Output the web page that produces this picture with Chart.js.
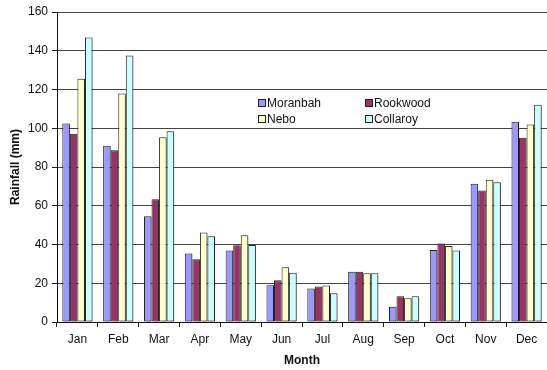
<!DOCTYPE html>
<html>
<head>
<meta charset="utf-8">
<script src="https://cdn.jsdelivr.net/npm/chart.js@4/dist/chart.umd.min.js"></script>
<style>
html,body{margin:0;padding:0;background:#fff;}
canvas{display:block;}
</style>
</head>
<body>
<canvas id="c" width="547" height="370"></canvas>
<script>
const months = ["Jan","Feb","Mar","Apr","May","Jun","Jul","Aug","Sep","Oct","Nov","Dec"];
const moranbah = [102.5, 91.0, 54.6, 35.4, 36.9, 19.0, 17.3, 25.9, 7.9, 37.2, 71.4, 103.4];
const rookwood = [97.1, 88.6, 63.4, 32.4, 39.6, 21.6, 18.3, 25.9, 13.3, 40.5, 67.9, 95.1];
const nebo     = [125.6, 118.0, 95.4, 46.2, 44.8, 28.2, 18.8, 25.2, 12.3, 39.2, 73.4, 101.9];
const collaroy = [146.9, 137.5, 98.5, 44.2, 39.8, 25.4, 14.8, 25.2, 13.3, 36.9, 72.1, 112.1];
const seriesNames = ["Moranbah","Rookwood","Nebo","Collaroy"];
const yAxisTitle = "Rainfall (mm)";
const xAxisTitle = "Month";

const colors = ["#9999FF","#993366","#FFFFCC","#CCFFFF"];
const FONT = "'Liberation Sans', Arial, sans-serif";

const shadowPlugin = {
  id: 'barShadow',
  beforeDatasetDraw(chart) {
    const ctx = chart.ctx;
    ctx.save();
    ctx.shadowColor = 'rgba(0,0,0,0.25)';
    ctx.shadowOffsetX = 2;
    ctx.shadowOffsetY = 1;
    ctx.shadowBlur = 0;
  },
  afterDatasetDraw(chart) {
    chart.ctx.restore();
  }
};

const legendPlugin = {
  id: 'insideLegend',
  afterDraw(chart) {
    const ctx = chart.ctx;
    const pos = [[258, 103], [365, 103], [258, 119], [365, 119]];
    ctx.save();
    ctx.font = "12px " + FONT;
    ctx.textBaseline = 'middle';
    ctx.textAlign = 'left';
    chart.data.datasets.forEach((ds, i) => {
      const [x, y] = pos[i];
      ctx.fillStyle = ds.backgroundColor;
      ctx.fillRect(x + 0.5, y - 3.5, 7, 7);
      ctx.strokeStyle = '#222';
      ctx.lineWidth = 1;
      ctx.strokeRect(x + 0.5, y - 3.5, 7, 7);
      ctx.fillStyle = '#111';
      ctx.fillText(ds.label, x + 9, y + 0.5);
    });
    ctx.restore();
  }
};

const seriesData = [moranbah, rookwood, nebo, collaroy];

new Chart(document.getElementById('c'), {
  type: 'bar',
  data: {
    labels: months,
    datasets: seriesNames.map((name, i) => ({
      label: name,
      data: seriesData[i],
      backgroundColor: colors[i],
      borderColor: '#222',
      borderWidth: 1,
      borderSkipped: false,
      categoryPercentage: 0.74,
      barPercentage: 1.0
    }))
  },
  options: {
    responsive: false,
    animation: false,
    devicePixelRatio: 1,
    layout: { padding: { top: 12, right: 0, bottom: 0, left: 0 } },
    plugins: {
      legend: { display: false },
      tooltip: { enabled: false }
    },
    scales: {
      x: {
        offset: true,
        grid: {
          display: true,
          offset: true,
          drawOnChartArea: false,
          drawTicks: true,
          tickLength: 5,
          color: '#222'
        },
        border: { display: true, color: '#111', width: 1 },
        ticks: {
          color: '#111',
          font: { family: FONT, size: 12 },
          padding: 5,
          maxRotation: 0
        },
        title: {
          display: true,
          text: xAxisTitle,
          color: '#111',
          font: { family: FONT, size: 12, weight: 'bold' },
          padding: { top: 0, bottom: 2 }
        },
        afterFit(scale) { scale.height = 48; }
      },
      y: {
        min: 0,
        max: 160,
        ticks: {
          stepSize: 20,
          color: '#111',
          font: { family: FONT, size: 12 },
          padding: 4
        },
        grid: {
          color: '#444',
          lineWidth: 1,
          drawTicks: true,
          tickLength: 5,
          tickColor: '#222'
        },
        border: { display: true, color: '#111', width: 1 },
        title: {
          display: true,
          text: yAxisTitle,
          color: '#111',
          font: { family: FONT, size: 12, weight: 'bold' },
          padding: { top: 8, bottom: 0 }
        },
        afterFit(scale) { scale.width = 57; }
      }
    }
  },
  plugins: [shadowPlugin, legendPlugin]
});
</script>
</body>
</html>
